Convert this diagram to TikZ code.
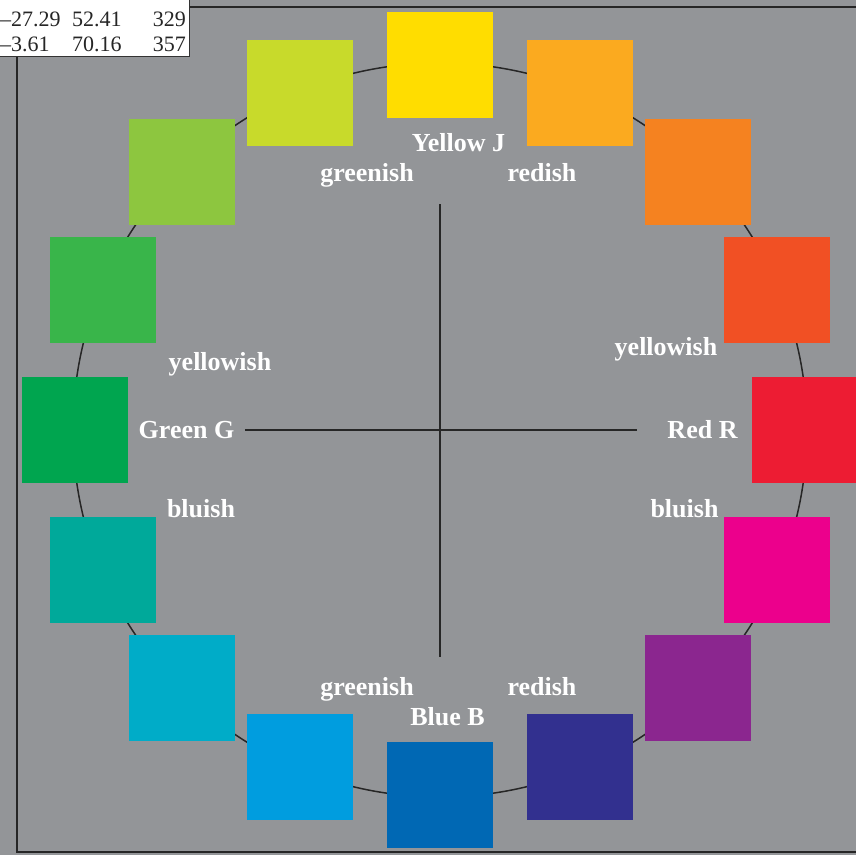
\documentclass[tikz,border=0pt]{standalone}
\usepackage{fontspec}
\setmainfont{Liberation Serif}
\usepackage{xcolor}
\usetikzlibrary{positioning}

\definecolor{bggray}{HTML}{939598}
\definecolor{cYel}{HTML}{FFDD00}
\definecolor{cYelOr}{HTML}{FBAA1F}
\definecolor{cOr}{HTML}{F58220}
\definecolor{cRedOr}{HTML}{F15024}
\definecolor{cRed}{HTML}{ED1C33}
\definecolor{cMag}{HTML}{EC008C}
\definecolor{cPur}{HTML}{8B268F}
\definecolor{cDkBlue}{HTML}{32308F}
\definecolor{cBlue}{HTML}{0068B4}
\definecolor{cLtBlue}{HTML}{009DDF}
\definecolor{cCyan}{HTML}{00ACC8}
\definecolor{cTeal}{HTML}{00A99A}
\definecolor{cDkGreen}{HTML}{00A54F}
\definecolor{cGreen}{HTML}{39B54A}
\definecolor{cLtGreen}{HTML}{8DC63F}
\definecolor{cYelGreen}{HTML}{C8DA2B}

\begin{document}
\begin{tikzpicture}[
  x=1pt, y=1pt,
  swatch/.style={minimum size=106pt, inner sep=0pt, outer sep=0pt},
  hue/.style={text=white, anchor=base, inner sep=0pt, font=\bfseries\fontsize{26}{30}\selectfont},
  cell/.style={text=black!85, inner sep=0pt, font=\fontsize{22}{26}\selectfont},
  axis/.style={line width=2pt, black!85}
]
\useasboundingbox[fill=bggray] (-440,-425) rectangle (416,430);

% outer frame and value table
\draw[line width=2.5pt, black!85] (-423,-422) rectangle (430,423);
\draw[fill=white, draw=black!80, line width=1pt] (-450,440) rectangle (-250,373);
\node[cell, anchor=base west] (a1) at (-440,403) {–27.29};
\node[cell, anchor=base west] (b1) at (-368,403) {52.41};
\node[cell, anchor=base east] (h1) at (-254,403) {329};
\node[cell, anchor=base west] (a2) at (-440,378) {–3.61};
\node[cell, anchor=base west] (b2) at (-368,378) {70.16};
\node[cell, anchor=base east] (h2) at (-254,378) {357};

% hue circle
\coordinate (o) at (0,0);
\draw[line width=1.5pt, black!85] (o) circle (367);

\node[swatch, fill=cYel] (yel) at (90:365) {};
\node[swatch, fill=cYelOr] (yelor) at (67.5:365) {};
\node[swatch, fill=cOr] (or) at (45:365) {};
\node[swatch, fill=cRedOr] (redor) at (22.5:365) {};
\node[swatch, fill=cRed] (red) at (0:365) {};
\node[swatch, fill=cMag] (mag) at (-22.5:365) {};
\node[swatch, fill=cPur] (pur) at (-45:365) {};
\node[swatch, fill=cDkBlue] (dkblue) at (-67.5:365) {};
\node[swatch, fill=cBlue] (blue) at (-90:365) {};
\node[swatch, fill=cLtBlue] (ltblue) at (-112.5:365) {};
\node[swatch, fill=cCyan] (cyan) at (-135:365) {};
\node[swatch, fill=cTeal] (teal) at (-157.5:365) {};
\node[swatch, fill=cDkGreen] (dkgreen) at (180:365) {};
\node[swatch, fill=cGreen] (green) at (157.5:365) {};
\node[swatch, fill=cLtGreen] (ltgreen) at (135:365) {};
\node[swatch, fill=cYelGreen] (yelgreen) at (112.5:365) {};

% hue names
\node[hue] (lJ) at (18.5,279) {Yellow J};
\node[hue] (lJg) at (-73,249) {greenish};
\node[hue] (lJr) at (102,249) {redish};
\node[hue] (lG) at (-253.5,-8) {Green G};
\node[hue] (lGy) at (-220,60) {yellowish};
\node[hue] (lGb) at (-239,-87) {bluish};
\node[hue] (lR) at (262.5,-8) {Red R};
\node[hue] (lRy) at (226,75) {yellowish};
\node[hue] (lRb) at (244.5,-87) {bluish};
\node[hue] (lB) at (7.5,-295) {Blue B};
\node[hue] (lBg) at (-73,-265) {greenish};
\node[hue] (lBr) at (102,-265) {redish};

% axes
\coordinate (ytop) at (0,226);
\coordinate (bbot) at (0,-227);
\coordinate (gleft) at (-195,0);
\coordinate (rright) at (197,0);
\draw[axis] (ytop) -- (bbot);
\draw[axis] (gleft) -- (rright);
\end{tikzpicture}
\end{document}
